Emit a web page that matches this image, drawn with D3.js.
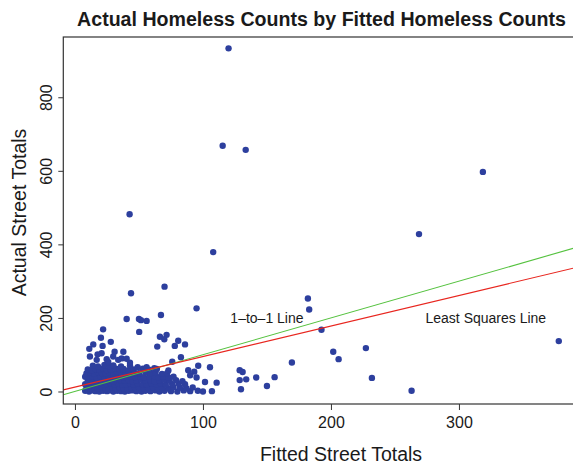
<!DOCTYPE html>
<html>
<head>
<meta charset="utf-8">
<script src="https://cdn.jsdelivr.net/npm/d3@7"></script>
<style>
  body { margin: 0; background: #fff; }
  svg text { font-family: "Liberation Sans", Arial, Helvetica, sans-serif; fill: #1a1a1a; }
</style>
</head>
<body>
<div id="chart"></div>
<script>
// fitted street totals (x) and actual street totals (y)
var fitted = [
  // dense band near zero
  8,11,14,16,19,22,25,27,30,33,36,39,42,45,48,52,55,59,63,66,70,75,80,85,90,96,100,107,
  9,12,15,18,21,24,26,29,32,35,38,41,44,47,50,54,57,61,65,68,73,77,82,87,92,
  8,11,14,17,20,23,25,28,31,34,37,40,43,46,49,53,56,60,64,67,71,76,81,86,
  10,13,16,18,21,24,27,30,33,36,39,42,45,48,52,55,59,62,66,70,74,79,84,
  8,11,14,17,20,23,26,29,32,35,38,41,44,47,51,54,58,62,65,69,73,77,
  9,12,15,18,21,24,27,30,33,36,40,43,47,50,55,59,63,68,72,
  10,13,16,19,22,25,28,32,35,38,42,46,53,58,64,73,
  14,18,23,27,30,36,43,49,56,62,
  // scattered above the band
  22,20.3,28,14.3,21.6,11.2,31,37.8,20.8,17.7,11.7,29.9,36.5,33.8,17,24.8,40.4,43,26,
  64.3,66.4,71.6,69.8,80.7,86,78,76,82.8,96.3,105.5,93.2,88.5,90,95,101.6,110.7,
  40.4,50,51.6,56,67.2,50.2,95,
  // outliers
  120,115.4,133.4,42.7,108,70,43.8,182,183,318.7,268.8,378,192.6,201.8,206,169.5,
  227.3,232,263,128.7,131,128.7,133.8,141.6,156,129.7,150
];
var actual = [
  2,0,3,1,0,2,1,3,0,2,1,0,2,3,1,0,2,1,3,0,2,1,0,3,1,2,0,1,
  10,8,11,9,12,8,10,12,9,11,8,10,12,9,11,8,10,12,9,11,8,12,10,9,11,
  20,18,21,19,22,18,20,22,19,21,18,20,22,19,21,18,20,22,19,21,18,20,22,20,
  29,31,28,32,30,29,31,28,32,30,29,31,28,30,32,29,31,28,30,32,29,31,28,
  40,38,41,39,42,38,40,42,39,41,38,40,42,39,41,38,40,42,39,41,38,40,
  49,51,48,52,50,49,51,48,52,50,49,51,48,50,52,49,51,48,50,
  60,58,61,59,62,58,60,62,59,61,58,60,62,59,61,57,
  70,68,72,69,71,68,71,66,66,63,
  169,146,135,128,124,116,108,108,104,101,95,95,90,86,86,88,89,78,80,
  122,149,154,142,138,128,124,81,93,70,66,54,58,44,38,26,24,
  197,197,194,192,208,162,226,
  933,668,657,482,379,285,267,253,223,597,428,137,168,108,88,79,
  118,37,2,58,53,31,33,38,39,6,15
];

var xTicks = [0, 100, 200, 300];
var yTicks = [0, 200, 400, 600, 800];
var lsIntercept = 12, lsSlope = 0.83;

var svgWidth = 573;
var svgHeight = 465;
var plot = { left: 63.3, right: 580, top: 37, bottom: 404 };

var svg = d3.select("#chart")
  .append("svg")
  .attr("width", svgWidth)
  .attr("height", svgHeight);

var xScale = d3.scaleLinear()
  .domain([-9.1, -9.1 + (plot.right - plot.left) / 1.28])
  .range([plot.left, plot.right]);

var yScale = d3.scaleLinear()
  .domain([-34, -34 + (plot.bottom - plot.top) / 0.3678])
  .range([plot.bottom, plot.top]);

svg.append("defs").append("clipPath")
  .attr("id", "clip")
  .append("rect")
  .attr("x", plot.left)
  .attr("y", plot.top)
  .attr("width", plot.right - plot.left)
  .attr("height", plot.bottom - plot.top);

// points
var pts = fitted.map(function(f, i) { return { x: f, y: actual[i] }; });
svg.append("g")
  .selectAll("circle")
  .data(pts)
  .enter()
  .append("circle")
  .attr("cx", d => xScale(d.x))
  .attr("cy", d => yScale(d.y))
  .attr("r", 3.2)
  .attr("fill", "#2d3f9e");

// reference lines
var xd = xScale.domain();
var lines = svg.append("g").attr("clip-path", "url(#clip)");
lines.append("line")
  .attr("x1", xScale(xd[0])).attr("y1", yScale(xd[0]))
  .attr("x2", xScale(xd[1])).attr("y2", yScale(xd[1]))
  .attr("stroke", "#55c23f").attr("stroke-width", 1.1);
lines.append("line")
  .attr("x1", xScale(xd[0])).attr("y1", yScale(lsIntercept + lsSlope * xd[0]))
  .attr("x2", xScale(xd[1])).attr("y2", yScale(lsIntercept + lsSlope * xd[1]))
  .attr("stroke", "#e8261f").attr("stroke-width", 1.1);

// line labels
svg.append("text")
  .attr("x", xScale(150)).attr("y", yScale(200))
  .attr("dy", "0.35em")
  .attr("text-anchor", "middle")
  .style("font-size", "14px")
  .text("1\u2013to\u20131 Line");
svg.append("text")
  .attr("x", xScale(321)).attr("y", yScale(200))
  .attr("dy", "0.35em")
  .attr("text-anchor", "middle")
  .style("font-size", "14px")
  .text("Least Squares Line");

// frame
svg.append("rect")
  .attr("x", plot.left).attr("y", plot.top)
  .attr("width", plot.right - plot.left)
  .attr("height", plot.bottom - plot.top)
  .attr("fill", "none")
  .attr("stroke", "#333")
  .attr("stroke-width", 1.2);

// axes
var bottomAxis = d3.axisBottom(xScale).tickValues(xTicks).tickSize(6).tickPadding(7);
var gx = svg.append("g")
  .attr("transform", `translate(0, ${plot.bottom})`)
  .call(bottomAxis);
gx.select(".domain").remove();
gx.selectAll("line").attr("stroke", "#333");
gx.selectAll("text").style("font-size", "16px").attr("fill", "#1a1a1a");

var leftAxis = d3.axisLeft(yScale).tickValues(yTicks).tickSize(5).tickPadding(6);
var gy = svg.append("g")
  .attr("transform", `translate(${plot.left}, 0)`)
  .call(leftAxis);
gy.select(".domain").remove();
gy.selectAll("line").attr("stroke", "#333");
gy.selectAll("text")
  .attr("transform", "rotate(-90)")
  .attr("x", 0)
  .attr("y", -11)
  .attr("dy", 0)
  .attr("text-anchor", "middle")
  .style("font-size", "16px")
  .attr("fill", "#1a1a1a");

// titles
svg.append("text")
  .attr("x", 321.5).attr("y", 25.5)
  .attr("text-anchor", "middle")
  .style("font-size", "19.6px")
  .style("font-weight", "bold")
  .text("Actual Homeless Counts by Fitted Homeless Counts");

svg.append("text")
  .attr("x", 341).attr("y", 461)
  .attr("text-anchor", "middle")
  .style("font-size", "19.5px")
  .text("Fitted Street Totals");

svg.append("text")
  .attr("transform", "translate(25.5, 212.5) rotate(-90)")
  .attr("text-anchor", "middle")
  .style("font-size", "19.5px")
  .text("Actual Street Totals");
</script>
</body>
</html>
